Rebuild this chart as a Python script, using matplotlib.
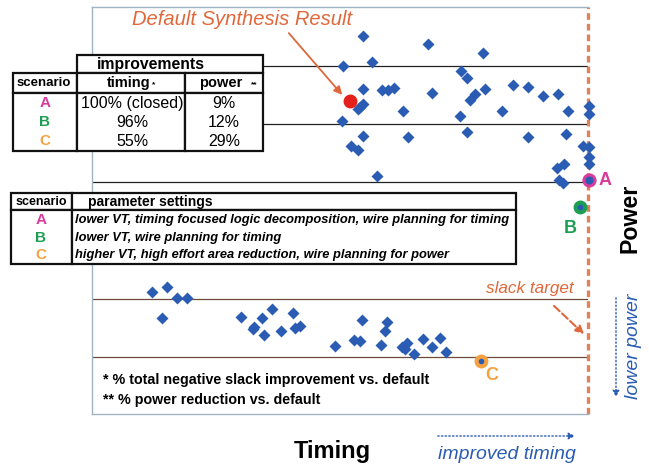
import matplotlib
matplotlib.use("Agg")
import matplotlib.pyplot as plt
from matplotlib.patches import Rectangle

plt.rcParams['font.family'] = ['Liberation Sans', 'DejaVu Sans']

# design points (timing grows to the right, power grows upwards; arbitrary units)
timing = [363, 428, 483, 343, 372, 461, 467, 363, 382, 388, 394, 432, 485, 475,
          470, 513, 528, 543, 558, 568, 589, 589, 363, 360, 358, 403, 502, 460,
          342, 363, 408, 467, 528, 566, 351, 358, 583, 589, 589, 589, 557, 564,
          377, 559, 563,
          152, 167, 177, 187, 162, 241, 262, 272, 293, 254, 253, 264, 281, 295,
          300, 335, 354, 360, 362, 387, 385, 381, 402, 407, 405, 414, 423, 432,
          440, 446]
power = [36, 44, 53, 66, 62, 71, 78, 89, 90, 90, 88, 93, 89, 94,
         100, 85, 87, 96, 94, 111, 106, 114, 104, 107, 109, 111, 111, 116,
         121, 136, 137, 132, 137, 134, 146, 150, 146, 147, 157, 164, 168, 164,
         176, 180, 183,
         292, 287, 298, 298, 318, 317, 318, 309, 313, 327, 329, 335, 331, 328,
         326, 346, 340, 341, 320, 322, 331, 345, 347, 343, 349, 354, 339, 347,
         338, 352]

default_pt = (350, 101)
scenario_names = ["A", "B", "C"]
scenario_timing = [589, 580, 481]
scenario_power = [180, 207, 361]
scenario_colors = ["#d83c9c", "#1e9e52", "#f5a142"]

power_levels_dark = [66, 124, 182]
power_levels_brown = [299, 357]
slack_target = 588

improv_timing = ["100% (closed)", "96%", "55%"]
improv_power = ["9%", "12%", "29%"]
settings = ["lower VT, timing focused logic decomposition, wire planning for timing",
            "lower VT, wire planning for timing",
            "higher VT, high effort area reduction, wire planning for power"]

W, H = 649, 465
fig = plt.figure(figsize=(W / 100, H / 100), dpi=100)
x0, x1, y0, y1 = 92, 588, 7, 414
ax = fig.add_axes([x0 / W, 1 - y1 / H, (x1 - x0) / W, (y1 - y0) / H])
ax.set_xlim(x0, x1)
ax.set_ylim(y1, y0)
ax.set_xticks([])
ax.set_yticks([])
for s in ["left", "top", "bottom"]:
    ax.spines[s].set_color("#9fb3c2")
    ax.spines[s].set_linewidth(1.0)
ax.spines["right"].set_visible(False)

for yv in power_levels_dark:
    ax.axhline(yv, color="#222222", lw=0.9, zorder=1)
for yv in power_levels_brown:
    ax.axhline(yv, color="#6e4a3a", lw=0.9, zorder=1)
ax.axvline(slack_target, color="#e0835a", lw=2.4, ls=(0, (2.0, 1.2)), zorder=2,
           clip_on=False)

ax.plot(timing, power, "D", color="#2a5cb4", markersize=6, mec="none", zorder=3,
        clip_on=False)
ax.plot(*default_pt, "o", color="#e3201c", markersize=9, zorder=4)

# scenario markers
ax.plot(scenario_timing[0], scenario_power[0], "o", mfc="#2a5cb4", mec=scenario_colors[0],
        mew=2.2, markersize=8, zorder=5, clip_on=False)
for i in (1, 2):
    ax.plot(scenario_timing[i], scenario_power[i], "o", color=scenario_colors[i],
            markersize=9, zorder=5, clip_on=False)
    ax.plot(scenario_timing[i], scenario_power[i], "o", color="#2a5cb4",
            markersize=3, zorder=6, clip_on=False)
label_offsets = [(16, 0), (-10, 21), (11, 14)]
for name, tx, py, c, (dx, dy) in zip(scenario_names, scenario_timing, scenario_power,
                                    scenario_colors, label_offsets):
    ax.text(tx + dx, py + dy, name, color=c, fontsize=13, fontweight="bold",
            ha="center", va="center", clip_on=False, zorder=6)

# annotations
ax.text(242, 19, "Default Synthesis Result", color="#e0673a", fontsize=14.5,
        style="italic", ha="center", va="center", clip_on=False)
ax.annotate("", xy=(344, 97), xytext=(287, 31),
            arrowprops=dict(arrowstyle="-|>", color="#e0673a", lw=1.3,
                            mutation_scale=12))
ax.text(530, 288, "slack target", color="#e0673a", fontsize=12.3, style="italic",
        ha="center", va="center")
ax.annotate("", xy=(586, 336), xytext=(552, 304),
            arrowprops=dict(arrowstyle="-|>", color="#e0673a", lw=1.5, ls="--",
                            mutation_scale=12))
ax.text(103, 380, "* % total negative slack improvement vs. default", fontsize=10.3,
        fontweight="bold", va="center")
ax.text(103, 400, "** % power reduction vs. default", fontsize=10.3,
        fontweight="bold", va="center")

# outside labels
ax.text(332, 451, "Timing", fontsize=17, fontweight="bold", ha="center", va="center",
        clip_on=False)
ax.text(630, 218, "Power", fontsize=16.7, fontweight="bold", ha="center", va="center",
        rotation=90, clip_on=False)
ax.text(507, 454, "improved timing", fontsize=14, style="italic", color="#2a5cb4",
        ha="center", va="center", clip_on=False)
ax.annotate("", xy=(578, 436), xytext=(435, 436), annotation_clip=False,
            arrowprops=dict(arrowstyle="-|>", color="#2a5cb4", lw=1.0, ls=":",
                            mutation_scale=10))
ax.text(633, 346, "lower power", fontsize=14, style="italic", color="#2a5cb4",
        ha="center", va="center", rotation=90, clip_on=False)
ax.annotate("", xy=(616, 400), xytext=(616, 295), annotation_clip=False,
            arrowprops=dict(arrowstyle="-|>", color="#2a5cb4", lw=1.0, ls=":",
                            mutation_scale=10))


def box(xa, ya, xb, yb):
    ax.add_patch(Rectangle((xa, ya), xb - xa, yb - ya, fc="white", ec="#111111",
                           lw=1.6, zorder=7, clip_on=False))


def txt(x, y, s, **kw):
    kw.setdefault("ha", "center")
    ax.text(x, y, s, va="center", zorder=8, clip_on=False, **kw)


# improvements table
box(77, 55, 263, 73)
box(13, 73, 77, 93)
box(77, 73, 185, 93)
box(185, 73, 263, 93)
box(13, 93, 77, 151)
box(77, 93, 185, 151)
box(185, 93, 263, 151)
txt(151, 64, "improvements", fontsize=11.3, fontweight="bold")
txt(44, 83, "scenario", fontsize=9.5, fontweight="bold")
txt(129, 83, "timing", fontsize=10.5, fontweight="bold")
txt(154, 85, "*", fontsize=6, fontweight="bold")
txt(221, 83, "power", fontsize=10.5, fontweight="bold")
txt(254, 85, "**", fontsize=6, fontweight="bold")
rows1 = [103, 122, 141]
for yy, nm, c, t, p in zip(rows1, scenario_names, scenario_colors, improv_timing, improv_power):
    txt(45, yy, nm, fontsize=11, fontweight="bold", color=c)
    txt(132, yy, t, fontsize=11.5)
    txt(224, yy, p, fontsize=11.5)

# settings table
box(11, 193, 72, 210)
box(72, 193, 516, 210)
box(11, 210, 72, 264)
box(72, 210, 516, 264)
txt(41, 201.5, "scenario", fontsize=9, fontweight="bold")
txt(88, 201.5, "parameter settings", fontsize=10, fontweight="bold", ha="left")
rows2 = [220, 238, 255]
for yy, nm, c, s in zip(rows2, scenario_names, scenario_colors, settings):
    txt(41, yy, nm, fontsize=11, fontweight="bold", color=c)
    txt(75, yy, s, fontsize=9.3, fontweight="bold", style="italic", ha="left")

fig.savefig("out.png", dpi=100)
